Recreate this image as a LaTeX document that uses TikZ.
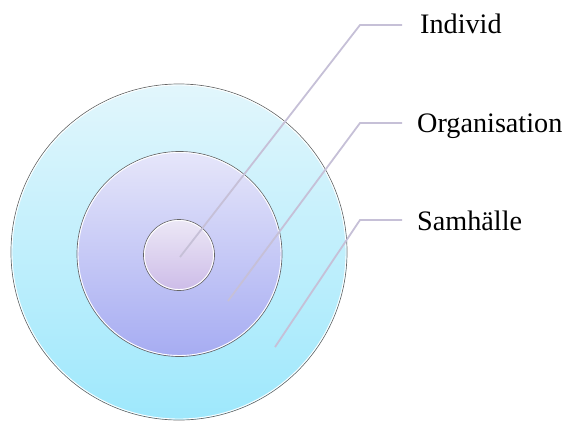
\documentclass[tikz,border=0pt]{standalone}
\usepackage{fontspec}
\setmainfont{Liberation Serif}
\begin{document}
\begin{tikzpicture}[x=1pt,y=-1pt,
  ring/.style={circle, inner sep=0pt, draw=black!60, line width=0.7pt},
  rim/.style={draw=white, line width=0.9pt},
  leader/.style={draw={rgb,255:red,198;green,192;blue,215}, line width=1.8pt, line join=miter},
  label/.style={anchor=base west, inner sep=0pt, font=\fontsize{28.2}{31}\selectfont}]
\useasboundingbox (0,0) rectangle (566,424);
% concentric rings
\node[ring, minimum size=336pt, top color={rgb,255:red,226;green,246;blue,252}, bottom color={rgb,255:red,158;green,232;blue,252}] (outer) at (179,252) {};
\draw[rim] (outer.center) circle (167);
\node[ring, minimum size=205pt, top color={rgb,255:red,230;green,230;blue,250}, bottom color={rgb,255:red,166;green,172;blue,242}] (middle) at (179.5,254) {};
\draw[rim] (middle.center) circle (101.5);
\node[ring, minimum size=71pt, top color={rgb,255:red,236;green,232;blue,246}, bottom color={rgb,255:red,205;green,188;blue,232}] (inner) at (179,255) {};
\draw[rim] (inner.center) circle (34.5);
% leader points
\coordinate (pI) at (180,257);
\coordinate (kI) at (360,25);
\coordinate (eI) at (402,25);
\coordinate (pO) at (228,301);
\coordinate (kO) at (360,123);
\coordinate (eO) at (402,123);
\coordinate (pS) at (275,347);
\coordinate (kS) at (360,220);
\coordinate (eS) at (402,220);
\draw[leader] (pI) -- (kI) -- (eI);
\draw[leader] (pO) -- (kO) -- (eO);
\draw[leader] (pS) -- (kS) -- (eS);
% labels
\node[label] (tI) at (420,33) {Individ};
\node[label] (tO) at (417,132) {Organisation};
\node[label] (tS) at (417,230) {Samhälle};
\end{tikzpicture}
\end{document}
